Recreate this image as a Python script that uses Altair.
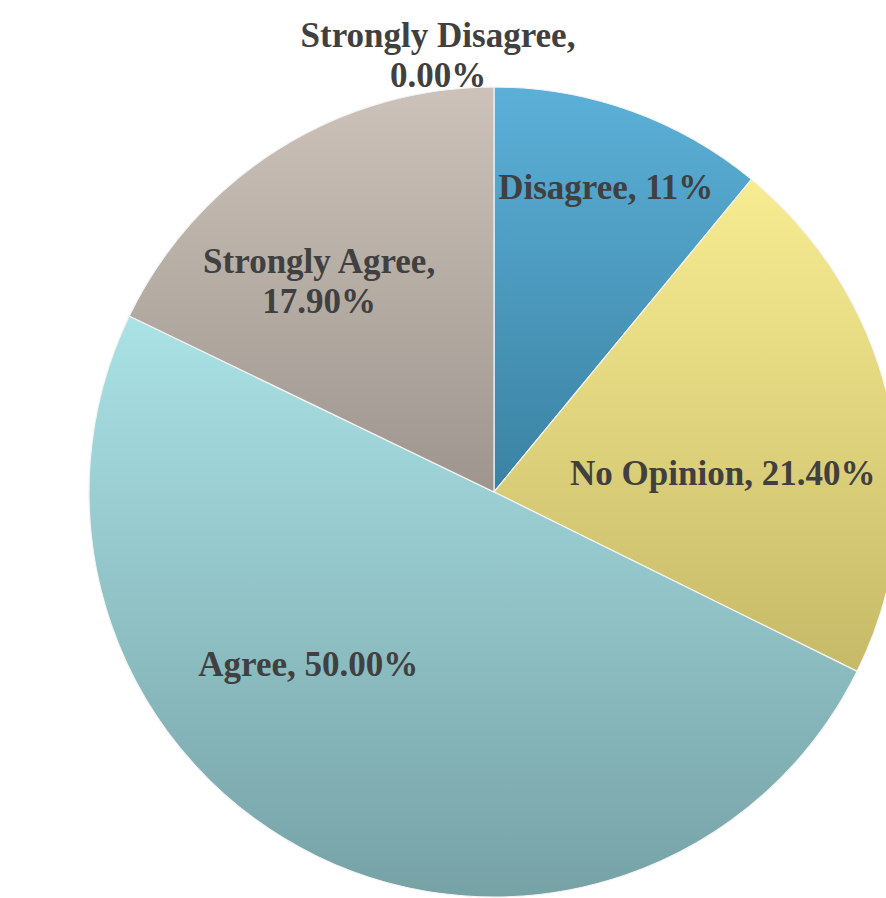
import math
import altair as alt
import pandas as pd

categories = ["Strongly Disagree", "Disagree", "No Opinion", "Agree", "Strongly Agree"]
values = [0.0, 11.0, 21.4, 50.0, 17.9]
labels = ["Strongly Disagree,\n0.00%", "Disagree, 11%", "No Opinion, 21.40%",
          "Agree, 50.00%", "Strongly Agree,\n17.90%"]
top_colors = ["#d8d2cc", "#5cb0d8", "#f8ec92", "#aae2e6", "#ccc2ba"]
bottom_colors = ["#a09890", "#3a82a2", "#c6ba68", "#76a2a6", "#9e968e"]

df = pd.DataFrame({"category": categories, "value": values, "label": labels,
                   "order": list(range(len(categories)))})
total = sum(values)
theta_scale = alt.Scale(domain=[0, total], range=[0, 2 * math.pi])

CX, CY, R = 494, 492, 405

base = (alt.Chart(df)
        .transform_window(cum="sum(value)", sort=[alt.SortField("order")], frame=[None, 0])
        .transform_calculate(start="datum.cum - datum.value",
                             mid="datum.cum - datum.value / 2"))

layers = []
for i, cat in enumerate(categories):
    grad = alt.Gradient(gradient="linear", x1=0, y1=0, x2=0, y2=1,
                        stops=[alt.GradientStop(offset=0, color=top_colors[i]),
                               alt.GradientStop(offset=1, color=bottom_colors[i])])
    layers.append(
        base.transform_filter(alt.datum.category == cat)
        .mark_arc(color=grad, stroke="#f4f4f4", strokeWidth=1.2, outerRadius=R)
        .encode(theta=alt.Theta("start:Q", scale=theta_scale), theta2="cum:Q",
                x=alt.value(CX), y=alt.value(CY))
    )

placement = {
    "Strongly Disagree": (436, -56, -20),
    "Disagree": (322, 3, -1),
    "No Opinion": (236, -2, 32),
    "Agree": (193, -101, 0),
    "Strongly Agree": (248, -43, -20),
}
for cat in categories:
    r, dx, dy = placement[cat]
    layers.append(
        base.transform_filter(alt.datum.category == cat)
        .mark_text(font="Liberation Serif", fontWeight="bold", fontSize=35,
                   color="#404040", lineBreak="\n", lineHeight=40,
                   align="center", baseline="middle", radius=r, dx=dx, dy=dy)
        .encode(theta=alt.Theta("mid:Q", scale=theta_scale), text="label:N",
                x=alt.value(CX), y=alt.value(CY))
    )

chart = (alt.layer(*layers)
         .properties(width=886, height=898, autosize="none", padding=0,
                     background="#ffffff")
         .configure_view(stroke=None))

chart.save("out.html", embed_options={"renderer": "svg", "actions": False})
